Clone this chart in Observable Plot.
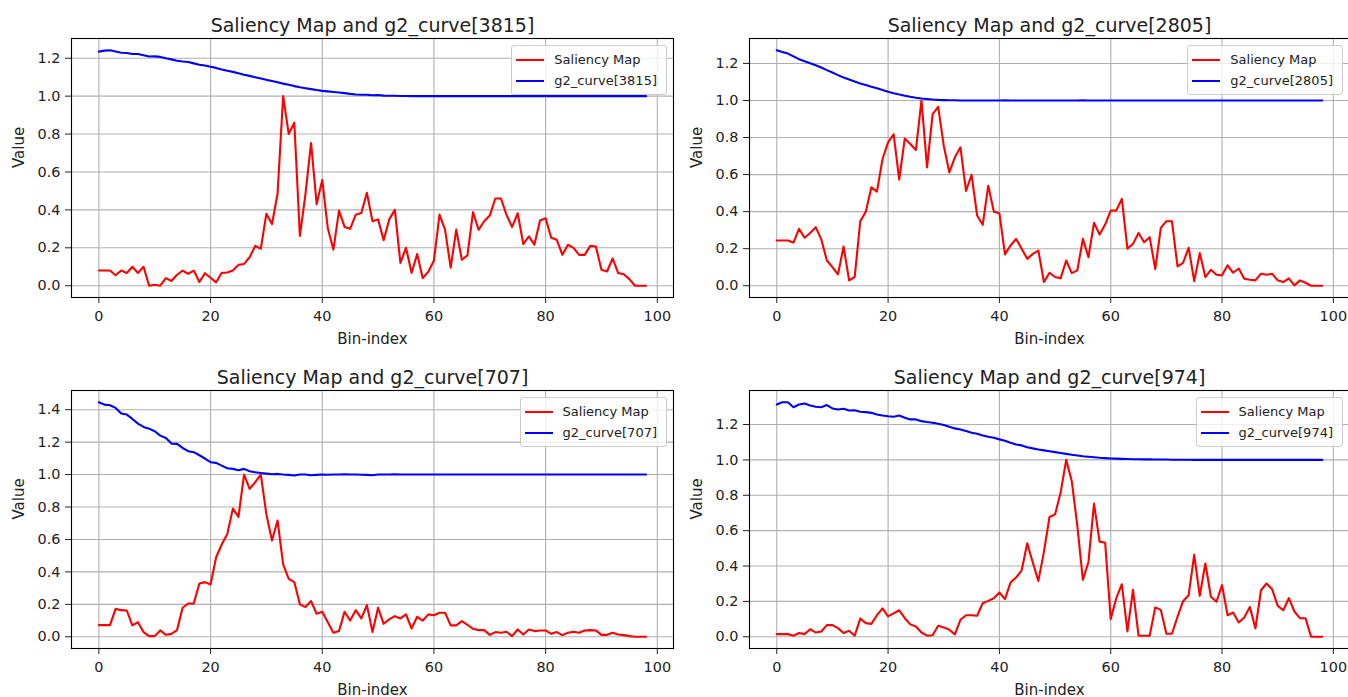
<!DOCTYPE html>
<html>
<head>
<meta charset="utf-8">
<script src="https://cdn.jsdelivr.net/npm/d3@7"></script>
<script src="https://cdn.jsdelivr.net/npm/@observablehq/plot@0.6"></script>
<style>
  html, body { margin: 0; padding: 0; background: #fff; overflow: hidden; }
  #fig { position: relative; width: 1348px; height: 697px; overflow: hidden; font-family: "DejaVu Sans", sans-serif; }
  .panel { position: absolute; }
  .panel svg { overflow: visible; }
  .legend { position: absolute; background: rgba(255,255,255,0.8); border: 1px solid #cccccc; border-radius: 3px;
            padding: 3px 9px 3px 4px; font-size: 13px; color: #222; line-height: 1; }
  .legend .row { display: flex; align-items: center; height: 21px; white-space: nowrap; }
  .legend .sw { width: 28px; height: 2px; margin-right: 10px; }
</style>
</head>
<body>
<div id="fig"></div>
<script>
// Saliency values and g2 curves per bin (99 bins, index 0..98)
const sal3815 = [
  0.08, 0.08, 0.08, 0.055, 0.08, 0.067, 0.1, 0.067, 0.1, 0.0,
  0.005, 0.0, 0.04, 0.025, 0.058, 0.08, 0.063, 0.08, 0.02, 0.066,
  0.042, 0.018, 0.068, 0.07, 0.08, 0.11, 0.115, 0.15, 0.21, 0.195,
  0.38, 0.325, 0.485, 1.0, 0.8, 0.86, 0.263, 0.485, 0.753, 0.43,
  0.558, 0.303, 0.19, 0.396, 0.31, 0.3, 0.375, 0.384, 0.49, 0.34,
  0.35, 0.24, 0.35, 0.40, 0.12, 0.2, 0.068, 0.167, 0.04, 0.074,
  0.133, 0.375, 0.295, 0.095, 0.296, 0.137, 0.16, 0.388, 0.295, 0.34,
  0.37, 0.46, 0.46, 0.374, 0.31, 0.382, 0.22, 0.26, 0.217, 0.344,
  0.356, 0.253, 0.242, 0.163, 0.216, 0.2, 0.163, 0.163, 0.21, 0.207,
  0.084, 0.075, 0.144, 0.067, 0.061, 0.035, 0.0, 0.0, 0.0
];
const g2_3815 = [
  1.235, 1.24, 1.242, 1.236, 1.229, 1.228, 1.222, 1.222, 1.216, 1.209,
  1.21, 1.207, 1.2, 1.194, 1.187, 1.183, 1.18, 1.173, 1.166, 1.162,
  1.155, 1.149, 1.141, 1.134, 1.128, 1.121, 1.113, 1.107, 1.1, 1.093,
  1.086, 1.08, 1.073, 1.066, 1.06, 1.053, 1.047, 1.042, 1.037, 1.032,
  1.028, 1.025, 1.022, 1.019, 1.016, 1.012, 1.009, 1.007, 1.007, 1.005,
  1.006, 1.003, 1.002, 1.002, 1.001, 1.001, 1.0, 1.0, 1.001, 1.0,
  1.0, 1.0, 1.001, 1.0, 1.0, 1.0, 1.0, 1.001, 1.0, 1.0,
  1.0, 1.0, 1.0, 1.0, 1.0, 1.001, 1.0, 1.0, 1.0, 1.0,
  1.0, 1.0, 1.0, 1.0, 1.0, 1.0, 1.0, 1.0, 1.0, 1.0,
  1.0, 1.0, 1.0, 1.0, 1.0, 1.0, 1.0, 1.0, 1.0
];
const sal2805 = [
  0.244, 0.244, 0.244, 0.233, 0.307, 0.259, 0.285, 0.316, 0.25, 0.136,
  0.1, 0.061, 0.212, 0.029, 0.047, 0.348, 0.4, 0.531, 0.508, 0.684,
  0.774, 0.817, 0.573, 0.795, 0.765, 0.733, 1.0, 0.639, 0.926, 0.966,
  0.756, 0.612, 0.693, 0.747, 0.512, 0.598, 0.379, 0.329, 0.54, 0.4,
  0.391, 0.169, 0.217, 0.253, 0.2, 0.145, 0.172, 0.19, 0.02, 0.07,
  0.047, 0.04, 0.136, 0.068, 0.083, 0.253, 0.154, 0.34, 0.276, 0.33,
  0.406, 0.406, 0.469, 0.2, 0.226, 0.285, 0.235, 0.262, 0.09, 0.312,
  0.348, 0.348, 0.104, 0.124, 0.205, 0.025, 0.176, 0.047, 0.086, 0.059,
  0.056, 0.11, 0.07, 0.093, 0.038, 0.032, 0.029, 0.065, 0.059, 0.065,
  0.029, 0.02, 0.04, 0.002, 0.029, 0.016, 0.0, 0.0, 0.0
];
const g2_2805 = [
  1.271, 1.262, 1.253, 1.238, 1.223, 1.212, 1.201, 1.19, 1.178, 1.164,
  1.151, 1.137, 1.124, 1.113, 1.102, 1.092, 1.083, 1.074, 1.066, 1.056,
  1.047, 1.039, 1.032, 1.026, 1.02, 1.015, 1.011, 1.008, 1.005, 1.003,
  1.002, 1.001, 1.001, 1.0, 1.0, 1.0, 1.0, 1.0, 1.0, 1.0,
  1.0, 1.001, 1.0, 1.0, 1.0, 1.0, 1.0, 1.0, 1.0, 1.0,
  1.0, 1.0, 1.0, 1.0, 1.0, 1.001, 1.0, 1.0, 1.0, 1.0,
  1.0, 1.0, 1.0, 1.0, 1.0, 1.0, 1.0, 1.0, 1.0, 1.0,
  1.0, 1.0, 1.0, 1.0, 1.0, 1.0, 1.0, 1.0, 1.0, 1.0,
  1.0, 1.0, 1.0, 1.0, 1.0, 1.0, 1.0, 1.0, 1.0, 1.0,
  1.0, 1.0, 1.0, 1.0, 1.0, 1.0, 1.0, 1.0, 1.0
];
const sal707 = [
  0.072, 0.072, 0.072, 0.172, 0.164, 0.162, 0.07, 0.09, 0.029, 0.004,
  0.004, 0.039, 0.012, 0.018, 0.041, 0.179, 0.205, 0.205, 0.329, 0.337,
  0.322, 0.49, 0.569, 0.634, 0.79, 0.739, 1.0, 0.912, 0.953, 1.0,
  0.754, 0.593, 0.717, 0.446, 0.357, 0.337, 0.2, 0.183, 0.22, 0.142,
  0.154, 0.09, 0.025, 0.035, 0.154, 0.1, 0.164, 0.113, 0.195, 0.029,
  0.179, 0.08, 0.107, 0.127, 0.113, 0.138, 0.051, 0.123, 0.1, 0.138,
  0.133, 0.148, 0.148, 0.07, 0.07, 0.096, 0.074, 0.049, 0.041, 0.041,
  0.012, 0.029, 0.025, 0.031, 0.004, 0.045, 0.014, 0.045, 0.035, 0.039,
  0.039, 0.018, 0.029, 0.01, 0.025, 0.031, 0.025, 0.039, 0.041, 0.039,
  0.012, 0.012, 0.025, 0.014, 0.01, 0.004, 0.0, 0.0, 0.0
];
const g2_707 = [
  1.446, 1.431, 1.427, 1.411, 1.376, 1.37, 1.343, 1.314, 1.294, 1.283,
  1.267, 1.24, 1.226, 1.191, 1.189, 1.164, 1.144, 1.138, 1.119, 1.099,
  1.076, 1.072, 1.055, 1.039, 1.035, 1.027, 1.035, 1.021, 1.014, 1.01,
  1.006, 1.002, 1.004, 1.0, 0.998, 0.994, 1.0, 1.0, 0.996, 0.998,
  1.0, 0.999, 1.0, 1.0, 1.001, 1.0, 1.0, 0.999, 0.998, 0.996,
  1.0, 1.0, 1.0, 1.001, 1.0, 1.0, 1.0, 1.0, 1.0, 1.0,
  1.0, 1.0, 1.0, 1.0, 1.0, 1.0, 1.0, 1.0, 1.0, 1.0,
  1.0, 1.0, 1.0, 1.0, 1.0, 1.0, 1.0, 1.0, 1.0, 1.0,
  1.0, 1.0, 1.0, 1.0, 1.0, 1.0, 1.0, 1.0, 1.0, 1.0,
  1.0, 1.0, 1.0, 1.0, 1.0, 1.0, 1.0, 1.0, 1.0
];
const sal974 = [
  0.015, 0.015, 0.015, 0.006, 0.021, 0.015, 0.043, 0.024, 0.03, 0.066,
  0.066, 0.049, 0.021, 0.034, 0.006, 0.103, 0.077, 0.073, 0.122, 0.16,
  0.115, 0.132, 0.15, 0.105, 0.07, 0.058, 0.024, 0.006, 0.009, 0.062,
  0.053, 0.04, 0.013, 0.096, 0.122, 0.122, 0.119, 0.19, 0.203, 0.218,
  0.25, 0.213, 0.307, 0.335, 0.376, 0.529, 0.42, 0.316, 0.48, 0.677,
  0.692, 0.815, 1.0, 0.88, 0.627, 0.322, 0.423, 0.753, 0.538, 0.532,
  0.1, 0.218, 0.297, 0.03, 0.265, 0.006, 0.006, 0.006, 0.166, 0.152,
  0.017, 0.017, 0.113, 0.201, 0.235, 0.463, 0.231, 0.414, 0.226, 0.198,
  0.292, 0.122, 0.137, 0.081, 0.109, 0.169, 0.047, 0.263, 0.301, 0.269,
  0.175, 0.15, 0.218, 0.143, 0.105, 0.105, 0.0, 0.0, 0.0
];
const g2_974 = [
  1.313, 1.326, 1.326, 1.298, 1.313, 1.319, 1.308, 1.3, 1.298, 1.31,
  1.291, 1.285, 1.289, 1.279, 1.281, 1.272, 1.27, 1.266, 1.257, 1.251,
  1.247, 1.244, 1.251, 1.238, 1.229, 1.229, 1.219, 1.214, 1.21, 1.204,
  1.197, 1.187, 1.178, 1.172, 1.163, 1.153, 1.148, 1.138, 1.131, 1.125,
  1.116, 1.108, 1.097, 1.087, 1.082, 1.072, 1.065, 1.059, 1.054, 1.049,
  1.044, 1.039, 1.034, 1.029, 1.025, 1.021, 1.018, 1.015, 1.012, 1.01,
  1.008, 1.007, 1.006, 1.005, 1.004, 1.004, 1.003, 1.003, 1.002, 1.002,
  1.002, 1.001, 1.001, 1.001, 1.001, 1.0, 1.0, 1.001, 1.0, 1.0,
  1.0, 1.0, 1.0, 1.0, 1.0, 1.0, 1.0, 1.0, 1.0, 1.0,
  1.0, 1.0, 1.0, 1.0, 1.0, 1.0, 1.0, 1.0, 1.0
];

// Axis ticks
const xTicks = [0, 20, 40, 60, 80, 100];
const yTicks12 = [0, 0.2, 0.4, 0.6, 0.8, 1.0, 1.2];
const yTicks14 = [0, 0.2, 0.4, 0.6, 0.8, 1.0, 1.2, 1.4];

// Curve ids and series labels
const curveIds = ["3815", "2805", "707", "974"];
const salSeries = [sal3815, sal2805, sal707, sal974];
const g2Series = [g2_3815, g2_2805, g2_707, g2_974];
const yTickSets = [yTicks12, yTicks12, yTicks14, yTicks12];
const salLabel = "Saliency Map";
const xLabel = "Bin-index";
const yLabel = "Value";

// Panel placement (2 x 2 grid)
const layout = [
  {left: 0,   top: 0,   width: 674, marginLeft: 71, marginRight: 1, marginTop: 38, marginBottom: 51},
  {left: 674, top: 0,   width: 676, marginLeft: 75, marginRight: 1, marginTop: 38, marginBottom: 51},
  {left: 0,   top: 352, width: 674, marginLeft: 71, marginRight: 1, marginTop: 38, marginBottom: 52},
  {left: 674, top: 352, width: 676, marginLeft: 75, marginRight: 1, marginTop: 38, marginBottom: 52}
];

const RED = "#ff0000";
const BLUE = "#0000ff";
const GRID = "#b0b0b0";
const INK = "#222222";

// matplotlib-style 5% margins around the data range
function padded(lo, hi) {
  const m = (hi - lo) * 0.05;
  return [lo - m, hi + m];
}

const fig = document.getElementById("fig");
const n = salSeries[0].length;

curveIds.forEach((id, k) => {
  const L = layout[k];
  const sal = salSeries[k];
  const g2 = g2Series[k];
  const yMin = Math.min(d3.min(sal), d3.min(g2));
  const yMax = Math.max(d3.max(sal), d3.max(g2));
  const g2Label = `g2_curve[${id}]`;

  const chart = Plot.plot({
    width: L.width,
    height: 348,
    marginLeft: L.marginLeft,
    marginRight: L.marginRight,
    marginTop: L.marginTop,
    marginBottom: L.marginBottom,
    style: {fontFamily: "DejaVu Sans, sans-serif", fontSize: "14.4px", color: INK, background: "transparent"},
    x: {domain: padded(0, n - 1)},
    y: {domain: padded(yMin, yMax)},
    marks: [
      Plot.gridX(xTicks, {stroke: GRID, strokeOpacity: 1, strokeWidth: 1.1}),
      Plot.gridY(yTickSets[k], {stroke: GRID, strokeOpacity: 1, strokeWidth: 1.1}),
      Plot.lineY(sal, {stroke: RED, strokeWidth: 2.1}),
      Plot.lineY(g2, {stroke: BLUE, strokeWidth: 2.1}),
      Plot.frame({stroke: "#000", strokeWidth: 1.1}),
      Plot.axisX(xTicks, {tickSize: 6, tickPadding: 7, tickFormat: d3.format("d"), label: null, fontSize: 14.4}),
      Plot.axisY(yTickSets[k], {tickSize: 6, tickPadding: 5, tickFormat: d3.format(".1f"), label: null, fontSize: 14.4}),
      Plot.text([`Saliency Map and ${g2Label}`], {text: d => d, frameAnchor: "top", dy: -7, lineAnchor: "bottom", fontSize: 19, fill: INK}),
      Plot.text([xLabel], {text: d => d, frameAnchor: "bottom", dy: 46, lineAnchor: "bottom", fontSize: 15, fill: INK}),
      Plot.text([yLabel], {text: d => d, frameAnchor: "left", dx: -48, rotate: -90, lineAnchor: "bottom", fontSize: 15, fill: INK})
    ]
  });

  const panel = document.createElement("div");
  panel.className = "panel";
  panel.style.left = L.left + "px";
  panel.style.top = L.top + "px";
  panel.style.width = L.width + "px";
  panel.style.height = "348px";
  panel.appendChild(chart);

  // Legend in the upper-right corner of the axes
  const legend = document.createElement("div");
  legend.className = "legend";
  legend.style.top = (L.marginTop + 7) + "px";
  legend.style.right = (L.marginRight + 6) + "px";
  [[salLabel, RED], [g2Label, BLUE]].forEach(([label, color]) => {
    const row = document.createElement("div");
    row.className = "row";
    const sw = document.createElement("span");
    sw.className = "sw";
    sw.style.background = color;
    const tx = document.createElement("span");
    tx.textContent = label;
    row.appendChild(sw);
    row.appendChild(tx);
    legend.appendChild(row);
  });
  panel.appendChild(legend);
  fig.appendChild(panel);
});
</script>
</body>
</html>
